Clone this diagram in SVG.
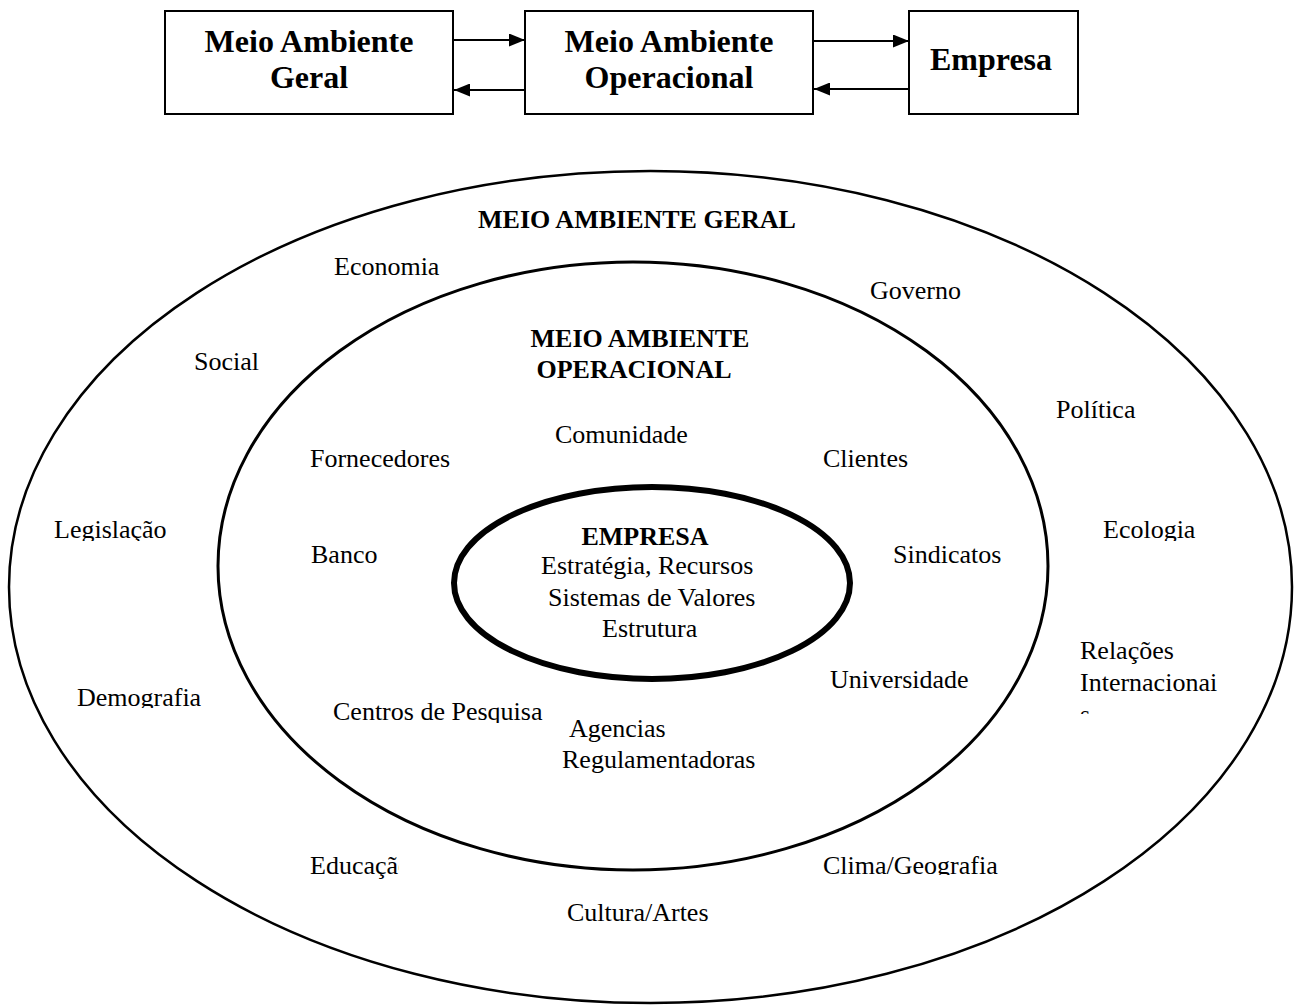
<svg xmlns="http://www.w3.org/2000/svg" width="1297" height="1006" viewBox="0 0 1297 1006">
<style>
.box{fill:#fff;stroke:#000;stroke-width:2}
.bt{font-family:"Liberation Serif",serif;font-weight:bold;font-size:32px;fill:#000;text-anchor:middle}
.t{font-family:"Liberation Serif",serif;font-size:26px;fill:#000}
.tb{font-family:"Liberation Serif",serif;font-size:26px;font-weight:bold;fill:#000;text-anchor:middle}
.conn{stroke:#000;stroke-width:2;fill:none}
</style>
<defs>
<marker id="ah" viewBox="0 0 16 13" refX="16" refY="6.5" markerWidth="16" markerHeight="13" markerUnits="userSpaceOnUse" orient="auto">
<path d="M0,0 L16,6.5 L0,13 Z" fill="#000"/>
</marker>
<clipPath id="cLeg"><rect x="0" y="500" width="250" height="41"/></clipPath>
<clipPath id="cEco"><rect x="1090" y="500" width="150" height="41"/></clipPath>
<clipPath id="cDem"><rect x="60" y="670" width="200" height="38"/></clipPath>
<clipPath id="cRel"><rect x="1070" y="620" width="180" height="94"/></clipPath>
<clipPath id="cCen"><rect x="320" y="690" width="240" height="33"/></clipPath>
<clipPath id="cEdu"><rect x="300" y="840" width="99" height="40"/></clipPath>
<clipPath id="cCli"><rect x="810" y="840" width="220" height="35"/></clipPath>
</defs>

<g id="top-geral">
<rect class="box" x="165" y="11" width="288" height="103"/>
<text class="bt" x="309" y="52">Meio Ambiente</text>
<text class="bt" x="309" y="88">Geral</text>
</g>
<g id="top-operacional">
<rect class="box" x="525" y="11" width="288" height="103"/>
<text class="bt" x="669" y="52">Meio Ambiente</text>
<text class="bt" x="669" y="88">Operacional</text>
</g>
<g id="top-empresa">
<rect class="box" x="909" y="11" width="169" height="103"/>
<text class="bt" x="991" y="70">Empresa</text>
</g>

<g id="connectors">
<line class="conn" x1="454" y1="40" x2="525" y2="40" marker-end="url(#ah)"/>
<line class="conn" x1="525" y1="90" x2="454" y2="90" marker-end="url(#ah)"/>
<line class="conn" x1="814" y1="41" x2="909" y2="41" marker-end="url(#ah)"/>
<line class="conn" x1="909" y1="89" x2="814" y2="89" marker-end="url(#ah)"/>
</g>

<g id="geral">
<ellipse cx="650.5" cy="587" rx="641.5" ry="416" fill="none" stroke="#000" stroke-width="2.5"/>
<text class="tb" x="637" y="228" font-size="25">MEIO AMBIENTE GERAL</text>
<text class="t" x="334" y="275">Economia</text>
<text class="t" x="870" y="299">Governo</text>
<text class="t" x="194" y="370">Social</text>
<text class="t" x="1056" y="418">Política</text>
<text class="t" x="54" y="538" clip-path="url(#cLeg)">Legislação</text>
<text class="t" x="1103" y="538" clip-path="url(#cEco)">Ecologia</text>
<g clip-path="url(#cRel)">
<text class="t" x="1080" y="659">Relações</text>
<text class="t" x="1080" y="691">Internacionai</text>
<text class="t" x="1080" y="723">s</text>
</g>
<text class="t" x="77" y="706" clip-path="url(#cDem)">Demografia</text>
<text class="t" x="310" y="874" clip-path="url(#cEdu)">Educação</text>
<text class="t" x="823" y="874" clip-path="url(#cCli)">Clima/Geografia</text>
<text class="t" x="567" y="921">Cultura/Artes</text>
</g>

<g id="operacional">
<ellipse cx="633" cy="566" rx="415" ry="304" fill="none" stroke="#000" stroke-width="3"/>
<text class="tb" x="640" y="347">MEIO AMBIENTE</text>
<text class="tb" x="634" y="378">OPERACIONAL</text>
<text class="t" x="555" y="443">Comunidade</text>
<text class="t" x="310" y="467">Fornecedores</text>
<text class="t" x="823" y="467">Clientes</text>
<text class="t" x="311" y="563">Banco</text>
<text class="t" x="893" y="563">Sindicatos</text>
<text class="t" x="830" y="688">Universidade</text>
<text class="t" x="333" y="720" clip-path="url(#cCen)">Centros de Pesquisa</text>
<text class="t" x="569" y="737">Agencias</text>
<text class="t" x="562" y="768">Regulamentadoras</text>
</g>

<g id="empresa">
<ellipse cx="652" cy="583" rx="198" ry="96" fill="none" stroke="#000" stroke-width="6"/>
<text class="tb" x="645" y="545">EMPRESA</text>
<text class="t" x="541" y="574">Estratégia, Recursos</text>
<text class="t" x="548" y="606">Sistemas de Valores</text>
<text class="t" x="602" y="637">Estrutura</text>
</g>
</svg>
